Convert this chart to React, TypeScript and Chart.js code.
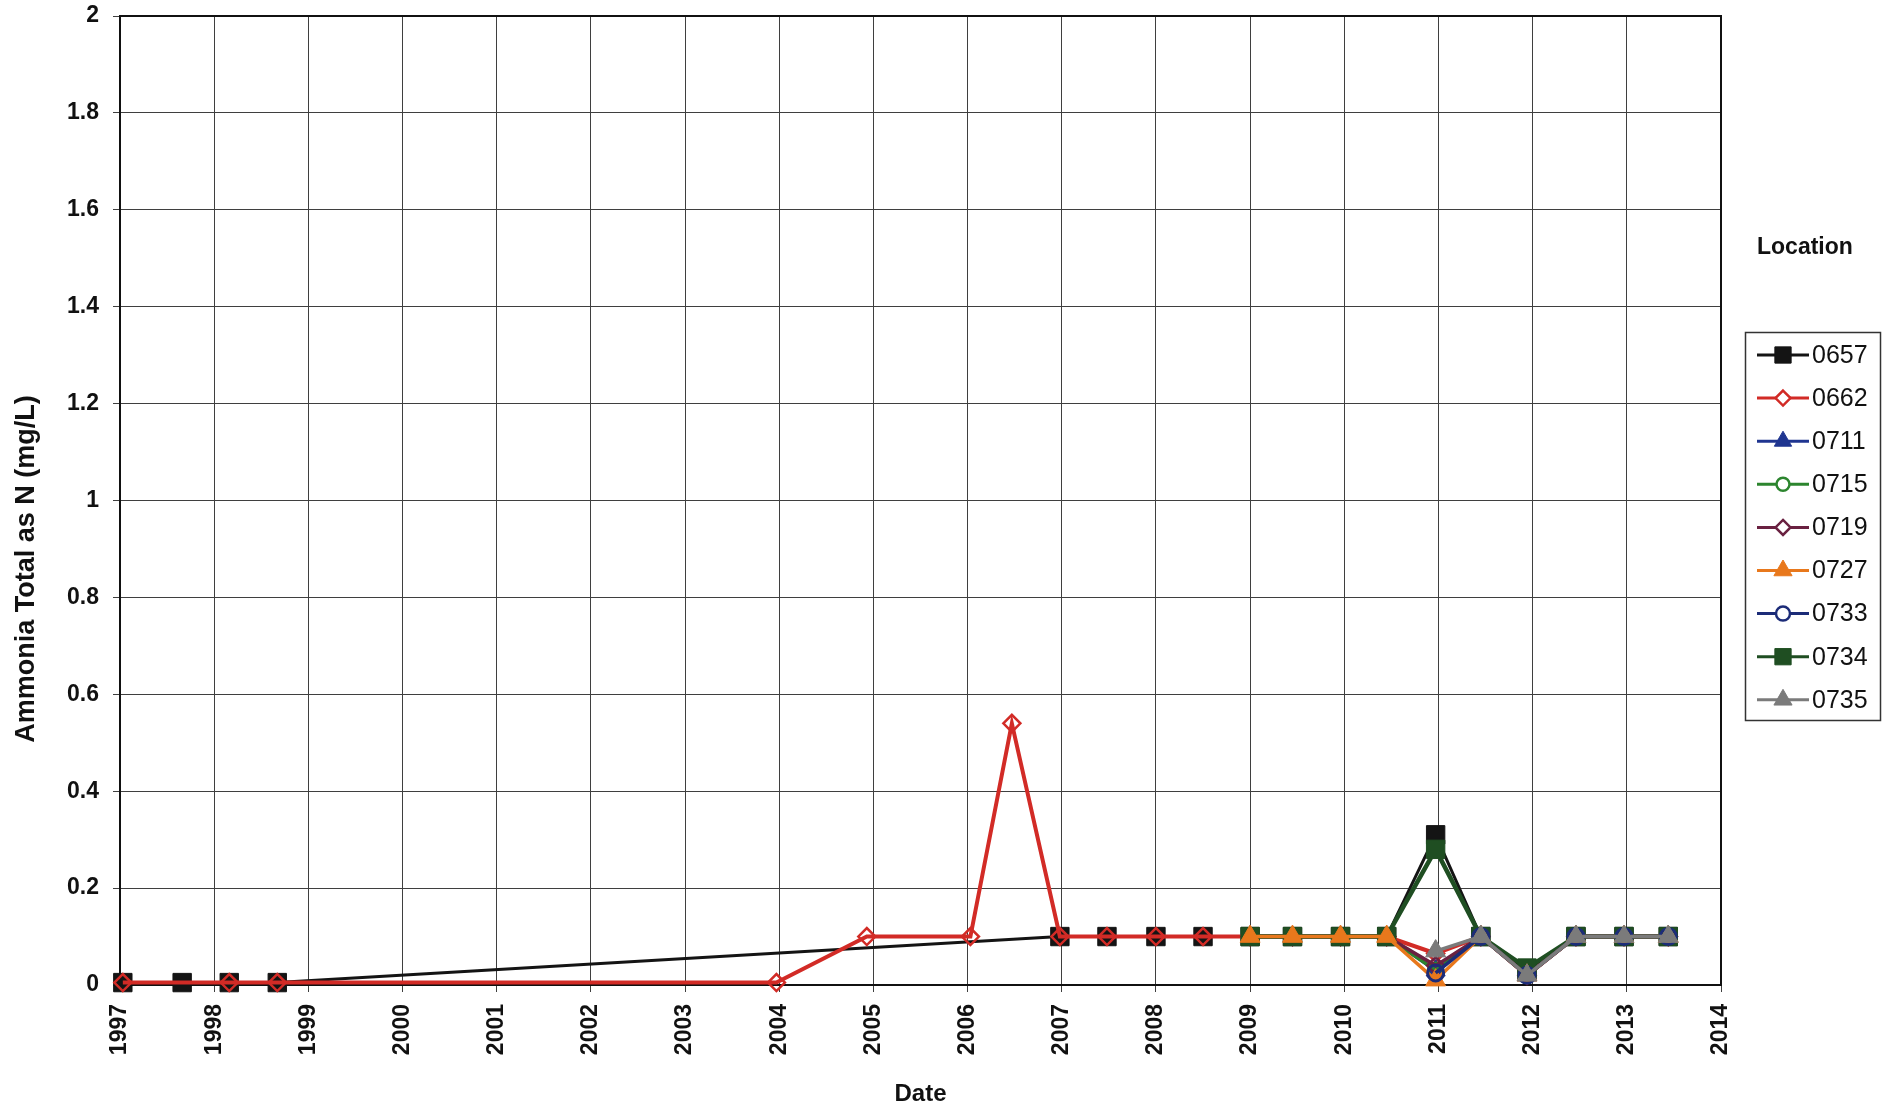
import React, { useEffect, useRef } from 'react';
import { Chart, registerables } from 'chart.js';

Chart.register(...registerables);

// ---- Data (decimal years, mg/L) ----
const locations = ['0657', '0662', '0711', '0715', '0719', '0727', '0733', '0734', '0735'];

const dates0657 = [1997.03, 1997.66, 1998.16, 1998.67, 2006.98, 2007.48, 2008.0, 2008.5, 2009.0, 2009.45, 2009.96, 2010.45, 2010.97, 2011.45, 2011.94, 2012.46, 2012.97, 2013.44];
const values0657 = [0.005, 0.005, 0.005, 0.005, 0.1, 0.1, 0.1, 0.1, 0.1, 0.1, 0.1, 0.1, 0.31, 0.1, 0.03, 0.1, 0.1, 0.1];

const dates0662 = [1997.03, 1998.16, 1998.67, 2003.97, 2004.93, 2006.03, 2006.47, 2006.98, 2007.48, 2008.0, 2008.5, 2009.0, 2009.45, 2009.96, 2010.45, 2010.97, 2011.45, 2011.94, 2012.46, 2012.97, 2013.44];
const values0662 = [0.005, 0.005, 0.005, 0.005, 0.1, 0.1, 0.54, 0.1, 0.1, 0.1, 0.1, 0.1, 0.1, 0.1, 0.1, 0.065, 0.1, 0.02, 0.1, 0.1, 0.1];

const lateDates = [2009.0, 2009.45, 2009.96, 2010.45, 2010.97, 2011.45, 2011.94, 2012.46, 2012.97, 2013.44];
const values0711 = [0.1, 0.1, 0.1, 0.1, 0.03, 0.1, 0.02, 0.1, 0.1, 0.1];
const values0715 = [0.1, 0.1, 0.1, 0.1, 0.03, 0.1, 0.02, 0.1, 0.1, 0.1];
const values0719 = [0.1, 0.1, 0.1, 0.1, 0.04, 0.1, 0.02, 0.1, 0.1, 0.1];
const values0727 = [0.1, 0.1, 0.1, 0.1, 0.01, 0.1, 0.02, 0.1, 0.1, 0.1];
const values0734 = [0.1, 0.1, 0.1, 0.1, 0.28, 0.1, 0.035, 0.1, 0.1, 0.1];

const dates2011 = [2010.97, 2011.45, 2011.94, 2012.46, 2012.97, 2013.44];
const values0733 = [0.025, 0.1, 0.02, 0.1, 0.1, 0.1];
const values0735 = [0.07, 0.1, 0.02, 0.1, 0.1, 0.1];

const yTicks = [0, 0.2, 0.4, 0.6, 0.8, 1, 1.2, 1.4, 1.6, 1.8, 2];
const xYears = [1997, 1998, 1999, 2000, 2001, 2002, 2003, 2004, 2005, 2006, 2007, 2008, 2009, 2010, 2011, 2012, 2013, 2014];

const yTitle = 'Ammonia Total as N (mg/L)';
const xTitle = 'Date';
const legendTitle = 'Location';

// ---- Styles ----
const FONT = '"Liberation Sans", Arial, Helvetica, sans-serif';

type Style = { color: string; fill: string; legendFill: string; shape: string; radius: number; lineWidth: number; pointBorder: number; order: number };
const styles: Style[] = [
  { color: '#141414', fill: '#141414', legendFill: '#141414', shape: 'rect', radius: 13, lineWidth: 3, pointBorder: 1, order: 9 },
  { color: '#d22b26', fill: 'rgba(0,0,0,0)', legendFill: '#ffffff', shape: 'rectRot', radius: 8.5, lineWidth: 4, pointBorder: 2.5, order: 8 },
  { color: '#1f3590', fill: '#1f3590', legendFill: '#1f3590', shape: 'triangle', radius: 11, lineWidth: 3.5, pointBorder: 1, order: 7 },
  { color: '#2c852e', fill: 'rgba(0,0,0,0)', legendFill: '#ffffff', shape: 'circle', radius: 7.5, lineWidth: 3.5, pointBorder: 3, order: 6 },
  { color: '#6a2141', fill: 'rgba(0,0,0,0)', legendFill: '#ffffff', shape: 'rectRot', radius: 8.5, lineWidth: 3.5, pointBorder: 2.5, order: 5 },
  { color: '#e8781c', fill: '#e8781c', legendFill: '#e8781c', shape: 'triangle', radius: 11.5, lineWidth: 3.5, pointBorder: 1, order: 3 },
  { color: '#1c2c78', fill: 'rgba(0,0,0,0)', legendFill: '#ffffff', shape: 'circle', radius: 8, lineWidth: 3.5, pointBorder: 3, order: 2 },
  { color: '#1f4e22', fill: '#1f4e22', legendFill: '#1f4e22', shape: 'rect', radius: 13, lineWidth: 4.5, pointBorder: 1, order: 4 },
  { color: '#7b7b7b', fill: '#7b7b7b', legendFill: '#7b7b7b', shape: 'triangle', radius: 11.5, lineWidth: 3.5, pointBorder: 1, order: 1 },
];

const seriesData: [number[], number[]][] = [
  [dates0657, values0657],
  [dates0662, values0662],
  [lateDates, values0711],
  [lateDates, values0715],
  [lateDates, values0719],
  [lateDates, values0727],
  [dates2011, values0733],
  [lateDates, values0734],
  [dates2011, values0735],
];

function drawMarker(ctx: CanvasRenderingContext2D, shape: string, r: number, x: number, y: number) {
  ctx.beginPath();
  if (shape === 'rect') {
    const s = Math.SQRT1_2 * r;
    ctx.rect(x - s, y - s, 2 * s, 2 * s);
  } else if (shape === 'rectRot') {
    ctx.moveTo(x, y - r);
    ctx.lineTo(x + r, y);
    ctx.lineTo(x, y + r);
    ctx.lineTo(x - r, y);
    ctx.closePath();
  } else if (shape === 'triangle') {
    let a = 0;
    ctx.moveTo(x + Math.sin(a) * r, y - Math.cos(a) * r);
    a += (2 * Math.PI) / 3;
    ctx.lineTo(x + Math.sin(a) * r, y - Math.cos(a) * r);
    a += (2 * Math.PI) / 3;
    ctx.lineTo(x + Math.sin(a) * r, y - Math.cos(a) * r);
    ctx.closePath();
  } else {
    ctx.arc(x, y, r, 0, Math.PI * 2);
  }
  ctx.fill();
  ctx.stroke();
}

const decorPlugin = {
  id: 'decor',
  beforeDatasetsDraw(chart: any) {
    const { ctx, chartArea } = chart;
    ctx.save();
    ctx.strokeStyle = '#111';
    ctx.lineWidth = 2;
    ctx.strokeRect(chartArea.left, chartArea.top, chartArea.right - chartArea.left, chartArea.bottom - chartArea.top);
    ctx.restore();
  },
  afterDraw(chart: any) {
    const ctx: CanvasRenderingContext2D = chart.ctx;
    ctx.save();
    // Y axis title
    ctx.save();
    ctx.translate(27, 569);
    ctx.rotate(-Math.PI / 2);
    ctx.font = `bold 27px ${FONT}`;
    ctx.fillStyle = '#111';
    ctx.textAlign = 'center';
    ctx.textBaseline = 'middle';
    ctx.fillText(yTitle, 0, 0);
    ctx.restore();

    // Legend title
    ctx.font = `bold 23px ${FONT}`;
    ctx.fillStyle = '#111';
    ctx.textAlign = 'left';
    ctx.textBaseline = 'middle';
    ctx.fillText(legendTitle, 1757, 248);

    // Legend box
    ctx.strokeStyle = '#333';
    ctx.lineWidth = 1.5;
    ctx.strokeRect(1745.5, 332.5, 135, 388);

    const startY = 355;
    const step = 43.1;
    locations.forEach((name, i) => {
      const st = styles[i];
      const y = startY + i * step;
      ctx.strokeStyle = st.color;
      ctx.lineWidth = 3;
      ctx.beginPath();
      ctx.moveTo(1757, y);
      ctx.lineTo(1809, y);
      ctx.stroke();
      ctx.fillStyle = st.legendFill;
      ctx.lineWidth = Math.min(st.pointBorder, 2.5);
      drawMarker(ctx, st.shape, st.shape === 'rect' ? 11.5 : st.radius - 1, 1783, y);
      ctx.fillStyle = '#111';
      ctx.font = `25px ${FONT}`;
      ctx.textAlign = 'left';
      ctx.textBaseline = 'middle';
      ctx.fillText(name, 1812, y + 1);
    });
    ctx.restore();
  },
};

export default function App() {
  const canvasRef = useRef<HTMLCanvasElement | null>(null);

  useEffect(() => {
    if (!canvasRef.current) return;
    const datasets = locations.map((name, i) => {
      const st = styles[i];
      const [xs, ys] = seriesData[i];
      return {
        label: name,
        data: xs.map((x, k) => ({ x, y: ys[k] })),
        borderColor: st.color,
        backgroundColor: st.fill,
        borderWidth: st.lineWidth,
        pointStyle: st.shape,
        pointRadius: st.radius,
        pointBorderWidth: st.pointBorder,
        pointBackgroundColor: st.fill,
        pointBorderColor: st.color,
        tension: 0,
        clip: false as any,
        order: st.order,
      };
    });

    const chart = new Chart(canvasRef.current, {
      type: 'line',
      data: { datasets },
      plugins: [decorPlugin],
      options: {
        animation: false,
        responsive: false,
        layout: { padding: { top: 16, right: 175, left: 0, bottom: 0 } },
        plugins: { legend: { display: false }, tooltip: { enabled: false } },
        scales: {
          x: {
            type: 'linear',
            min: xYears[0],
            max: xYears[xYears.length - 1],
            afterBuildTicks: (scale: any) => {
              scale.ticks = xYears.map((v) => ({ value: v }));
            },
            afterFit: (scale: any) => {
              scale.height = 125;
              scale.paddingLeft = 0;
              scale.paddingRight = 0;
            },
            ticks: {
              autoSkip: false,
              minRotation: 90,
              maxRotation: 90,
              padding: 12,
              color: '#111',
              font: { family: FONT, size: 23, weight: 'bold' },
              callback: (v: any) => String(v),
            },
            grid: { color: '#3f3f3f', lineWidth: 1, tickLength: 7, drawTicks: true },
            border: { display: true, color: '#111', width: 2 },
            title: {
              display: true,
              text: xTitle,
              color: '#111',
              font: { family: FONT, size: 24, weight: 'bold' },
              padding: { top: 0, bottom: 1 },
            },
          },
          y: {
            type: 'linear',
            min: 0,
            max: 2,
            afterBuildTicks: (scale: any) => {
              scale.ticks = yTicks.map((v) => ({ value: v }));
            },
            afterFit: (scale: any) => {
              scale.width = 120;
              scale.paddingTop = 0;
              scale.paddingBottom = 0;
            },
            ticks: {
              padding: 14,
              color: '#111',
              font: { family: FONT, size: 23, weight: 'bold' },
              callback: (v: any) => String(Number(Number(v).toFixed(1))),
            },
            grid: { color: '#3f3f3f', lineWidth: 1, tickLength: 7, drawTicks: true },
            border: { display: true, color: '#111', width: 2 },
          },
        },
      } as any,
    });
    return () => chart.destroy();
  }, []);

  return (
    <div style={{ position: 'absolute', left: 0, top: 0, width: 1896, height: 1110, background: '#fff' }}>
      <canvas ref={canvasRef} width={1896} height={1110} style={{ display: 'block' }} />
    </div>
  );
}
